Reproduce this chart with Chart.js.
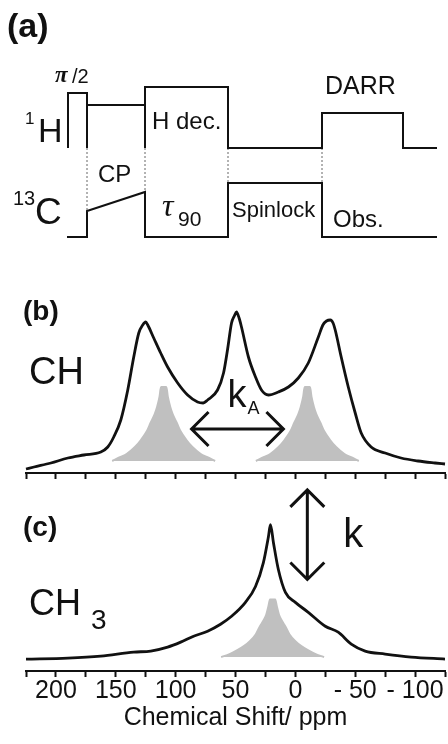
<!DOCTYPE html>
<html>
<head>
<meta charset="utf-8">
<script src="https://cdn.jsdelivr.net/npm/chart.js@4.4.1/dist/chart.umd.min.js"></script>
<style>
    html, body { margin: 0; padding: 0; background: #fff; }
    #wrap { position: relative; width: 448px; height: 744px; overflow: hidden; }
    canvas { position: absolute; left: 0; }
</style>
</head>
<body>
<div id="wrap">
    <canvas id="pulseChart" width="448" height="250" style="top:0"></canvas>
    <canvas id="chChart" width="448" height="210" style="top:280px"></canvas>
    <canvas id="ch3Chart" width="448" height="264" style="top:480px"></canvas>
</div>
<script>
// (a) pulse sequence, time and rf level in arbitrary units
const hTime = [0, 0, 19, 19, 19, 19, 77, 77, 77, 77, 160, 160, 254, 254, 335, 335, 369];
const hLevel = [89, 144, 144, 89, null, 132, 132, null, 89, 150, 150, 89, 89, 124, 124, 89, 89];
const cTime = [-1, 19, 19, 77, 77, 160, 160, 254, 254, 369];
const cLevel = [0, 0, 26, 45, 0, 0, 54, 54, 0, 0];
const markerTime = [19, 77, 160, 254];
const markerBottom = [26, 45, 54, 54];
const hBaseLevel = 89;

// (b) CH spectrum
const chPpm = [225, 218.3, 204.2, 190, 176.7, 162.5, 156.7, 151.7, 145.8, 140, 135, 130.8, 127.5, 125, 123.3, 118.3,
    112.5, 106.7, 98.3, 90, 81.7, 77, 73.3, 65, 60, 56.7, 53.3, 51, 49.2, 47, 45, 39.2, 33.3, 28.3, 22.5, 14.2, 5.8,
    -2.5, -10.8, -19.2, -23, -26, -29.2, -31.5, -33.3, -38.3, -44.2, -50, -55, -63.3, -75, -88.3, -102.5, -116.7, -125];
const chIntensity = [4, 6, 10, 15, 18, 21, 26, 36, 53, 83, 116, 140, 148, 151, 148, 135,
    120, 106, 90, 78, 71, 70, 73, 83, 100, 123, 150, 157, 161, 155, 146, 116, 96, 83, 78, 81, 86,
    95, 110, 136, 148, 152, 153, 150, 143, 116, 86, 60, 40, 26, 20, 15, 12, 10, 9];

// (b) exchange site line shapes
const siteLeftPpm = [153, 146, 141, 134, 129, 124, 121, 117.5, 115.5, 113.5, 112.2, 107.8, 106.5, 104.5, 102.5, 99, 96, 91, 86, 79, 74, 67];
const siteRightPpm = [33, 26, 21, 14, 9, 4, 1, -2.5, -4.5, -6.5, -7.8, -12.2, -13.5, -15.5, -17.5, -21, -24, -29, -34, -41, -46, -53];
const siteBIntensity = [12, 16, 19, 26, 33, 42, 50, 59, 66, 76, 86, 86, 76, 66, 59, 50, 42, 33, 26, 19, 16, 12];
const siteBBase = 12;

// (c) CH3 spectrum
const ch3Ppm = [225, 190, 162.5, 135, 120.8, 106.7, 95.8, 85, 73.3, 62.5, 53.3, 41.7, 33.3, 26.7, 22.5, 20.8,
    18.3, 14.2, 8.3, 0, -10.8, -25, -35.8, -46.7, -58.3, -75, -96.7, -125];
const ch3Intensity = [12, 13, 15, 19, 20, 24, 29, 35, 40, 47, 55, 69, 85, 109, 135, 147,
    129, 102, 79, 69, 59, 45, 39, 27, 20, 17, 14, 12];
const siteCPpm = [62, 55, 50, 43, 38, 33, 30, 26.5, 24.5, 22.5, 21.2, 16.8, 15.5, 13.5, 11.5, 8, 5, 0, -5, -12, -17, -24];
const siteCIntensity = [14, 17, 20, 25, 30, 37, 44, 51, 56, 65, 72, 72, 65, 56, 51, 44, 37, 30, 25, 20, 17, 14];
const siteCBase = 14;

// shift axis
const shiftMin = -125;
const shiftMax = 225;
const shiftStep = 25;
const shiftLabels = [200, 150, 100, 50, 0, -50, -100];

const SANS = '"Liberation Sans", Arial, sans-serif';
const SERIF = '"Liberation Serif", "Times New Roman", serif';
const INK = '#111';
const SHADE = '#c0c0c0';

function toPoints(xs, ys) {
    return xs.map((x, i) => ({ x: x, y: ys[i] }));
}

function markerPoints() {
    const pts = [];
    markerTime.forEach((t, i) => {
        pts.push({ x: t, y: hBaseLevel });
        pts.push({ x: t, y: markerBottom[i] });
        pts.push({ x: t, y: null });
    });
    return pts;
}

// draws text labels and double arrows in data coordinates
const annotate = {
    id: 'annotate',
    afterDatasetsDraw(chart, args, opts) {
        const ctx = chart.ctx;
        const xs = chart.scales.x;
        const ys = chart.scales.y;
        (opts.arrows || []).forEach(a => {
            const x1 = xs.getPixelForValue(a.x1), y1 = ys.getPixelForValue(a.y1);
            const x2 = xs.getPixelForValue(a.x2), y2 = ys.getPixelForValue(a.y2);
            const ang = Math.atan2(y2 - y1, x2 - x1);
            const h = a.head;
            ctx.save();
            ctx.strokeStyle = INK;
            ctx.lineWidth = 3;
            ctx.lineJoin = 'miter';
            ctx.beginPath();
            ctx.moveTo(x1, y1);
            ctx.lineTo(x2, y2);
            [[x1, y1, ang], [x2, y2, ang + Math.PI]].forEach(([px, py, dir]) => {
                ctx.moveTo(px + h * Math.cos(dir + Math.PI / 4), py + h * Math.sin(dir + Math.PI / 4));
                ctx.lineTo(px, py);
                ctx.lineTo(px + h * Math.cos(dir - Math.PI / 4), py + h * Math.sin(dir - Math.PI / 4));
            });
            ctx.stroke();
            ctx.restore();
        });
        (opts.items || []).forEach(item => {
            ctx.save();
            ctx.font = item.font;
            ctx.fillStyle = INK;
            ctx.textAlign = 'left';
            ctx.textBaseline = item.baseline || 'middle';
            ctx.fillText(item.text, xs.getPixelForValue(item.x), ys.getPixelForValue(item.y));
            ctx.restore();
        });
    }
};

function shiftAxis(showLabels) {
    return {
        type: 'linear',
        reverse: true,
        min: shiftMin,
        max: shiftMax,
        border: { display: true, color: INK, width: 2 },
        grid: { drawOnChartArea: false, drawTicks: true, tickLength: 6, tickWidth: 2, tickColor: INK },
        ticks: {
            display: showLabels,
            stepSize: shiftStep,
            autoSkip: false,
            maxRotation: 0,
            padding: 2,
            color: INK,
            font: { family: SANS, size: 25, lineHeight: 1 },
            callback: v => shiftLabels.includes(v) ? (v < 0 ? '- ' + Math.abs(v) : String(v)) : ''
        },
        title: {
            display: showLabels,
            text: 'Chemical Shift/ ppm',
            color: INK,
            padding: { top: 0, bottom: 2 },
            font: { family: SANS, size: 25, lineHeight: 1 }
        }
    };
}

const common = {
    responsive: false,
    animation: false,
    events: [],
    plugins: { legend: { display: false }, tooltip: { enabled: false } }
};

function drawPulse() {
    const line = { showLine: true, pointRadius: 0, borderColor: INK, borderWidth: 2, spanGaps: false, clip: false, tension: 0 };
    new Chart(document.getElementById('pulseChart'), {
        type: 'scatter',
        data: {
            datasets: [
                Object.assign({ data: toPoints(hTime, hLevel) }, line),
                Object.assign({ data: toPoints(cTime, cLevel) }, line),
                Object.assign({}, line, { data: markerPoints(), borderWidth: 1, borderColor: '#666', borderDash: [2, 2] })
            ]
        },
        options: Object.assign({}, common, {
            layout: { padding: 0 },
            scales: {
                x: { type: 'linear', display: false, min: -68, max: 380 },
                y: { display: false, min: -13, max: 237 }
            },
            plugins: Object.assign({}, common.plugins, {
                annotate: {
                    items: [
                        { text: '(a)', x: -61, y: 209, font: 'bold 34px ' + SANS },
                        { text: '\u03c0', x: -13, y: 161, font: 'bold italic 23px ' + SERIF },
                        { text: '/2', x: 4, y: 160, font: '20px ' + SANS },
                        { text: '1', x: -43, y: 118, font: '17px ' + SANS },
                        { text: 'H', x: -30, y: 104, font: '34px ' + SANS },
                        { text: '13', x: -55, y: 38, font: '20px ' + SANS },
                        { text: 'C', x: -33, y: 23, font: '37px ' + SANS },
                        { text: 'CP', x: 30, y: 62, font: '24px ' + SANS },
                        { text: 'H dec.', x: 84, y: 115, font: '24px ' + SANS },
                        { text: '\u03c4', x: 94, y: 29, font: 'italic 32px ' + SERIF },
                        { text: '90', x: 110, y: 17, font: '21px ' + SANS },
                        { text: 'Spinlock', x: 164, y: 26, font: '22px ' + SANS },
                        { text: 'Obs.', x: 265, y: 17, font: '24px ' + SANS },
                        { text: 'DARR', x: 257, y: 150, font: '25px ' + SANS }
                    ]
                }
            })
        }),
        plugins: [annotate]
    });
}

function drawCH() {
    new Chart(document.getElementById('chChart'), {
        type: 'scatter',
        data: {
            datasets: [
                { data: toPoints(chPpm, chIntensity), showLine: true, pointRadius: 0, borderColor: INK, borderWidth: 2.8, cubicInterpolationMode: 'monotone', clip: false },
                { data: toPoints(siteLeftPpm, siteBIntensity), showLine: true, pointRadius: 0, borderColor: SHADE, backgroundColor: SHADE, borderWidth: 2, cubicInterpolationMode: 'monotone', fill: { value: siteBBase } },
                { data: toPoints(siteRightPpm, siteBIntensity), showLine: true, pointRadius: 0, borderColor: SHADE, backgroundColor: SHADE, borderWidth: 2, cubicInterpolationMode: 'monotone', fill: { value: siteBBase } }
            ]
        },
        options: Object.assign({}, common, {
            layout: { padding: { left: 26, right: 3, top: 10, bottom: 11 } },
            scales: {
                x: shiftAxis(false),
                y: { display: false, min: 0, max: 183 }
            },
            plugins: Object.assign({}, common.plugins, {
                annotate: {
                    items: [
                        { text: '(b)', x: 227.5, y: 161, font: 'bold 28px ' + SANS },
                        { text: 'CH', x: 222.5, y: 99, font: '38px ' + SANS },
                        { text: 'k', x: 56.7, y: 66, font: '38px ' + SANS, baseline: 'alphabetic' },
                        { text: 'A', x: 40, y: 59, font: '18px ' + SANS, baseline: 'alphabetic' }
                    ],
                    arrows: [{ x1: 86.7, y1: 44, x2: 10, y2: 44, head: 24 }]
                }
            })
        }),
        plugins: [annotate]
    });
}

function drawCH3() {
    new Chart(document.getElementById('ch3Chart'), {
        type: 'scatter',
        data: {
            datasets: [
                { data: toPoints(ch3Ppm, ch3Intensity), showLine: true, pointRadius: 0, borderColor: INK, borderWidth: 2.8, cubicInterpolationMode: 'monotone', clip: false },
                { data: toPoints(siteCPpm, siteCIntensity), showLine: true, pointRadius: 0, borderColor: SHADE, backgroundColor: SHADE, borderWidth: 2, cubicInterpolationMode: 'monotone', fill: { value: siteCBase } }
            ]
        },
        options: Object.assign({}, common, {
            layout: { padding: { left: 26, right: 3, top: 2, bottom: 11 } },
            scales: {
                x: shiftAxis(true),
                y: { display: false, min: 0, max: 190 }
            },
            plugins: Object.assign({}, common.plugins, {
                annotate: {
                    items: [
                        { text: '(c)', x: 227.5, y: 143, font: 'bold 28px ' + SANS },
                        { text: 'CH', x: 222.5, y: 66, font: '36px ' + SANS },
                        { text: '3', x: 170.8, y: 50, font: '28px ' + SANS },
                        { text: 'k', x: -40, y: 125, font: '40px ' + SANS, baseline: 'alphabetic' }
                    ],
                    arrows: [{ x1: -10, y1: 182, x2: -10, y2: 92, head: 24 }]
                }
            })
        }),
        plugins: [annotate]
    });
}

drawPulse();
drawCH();
drawCH3();
</script>
</body>
</html>
